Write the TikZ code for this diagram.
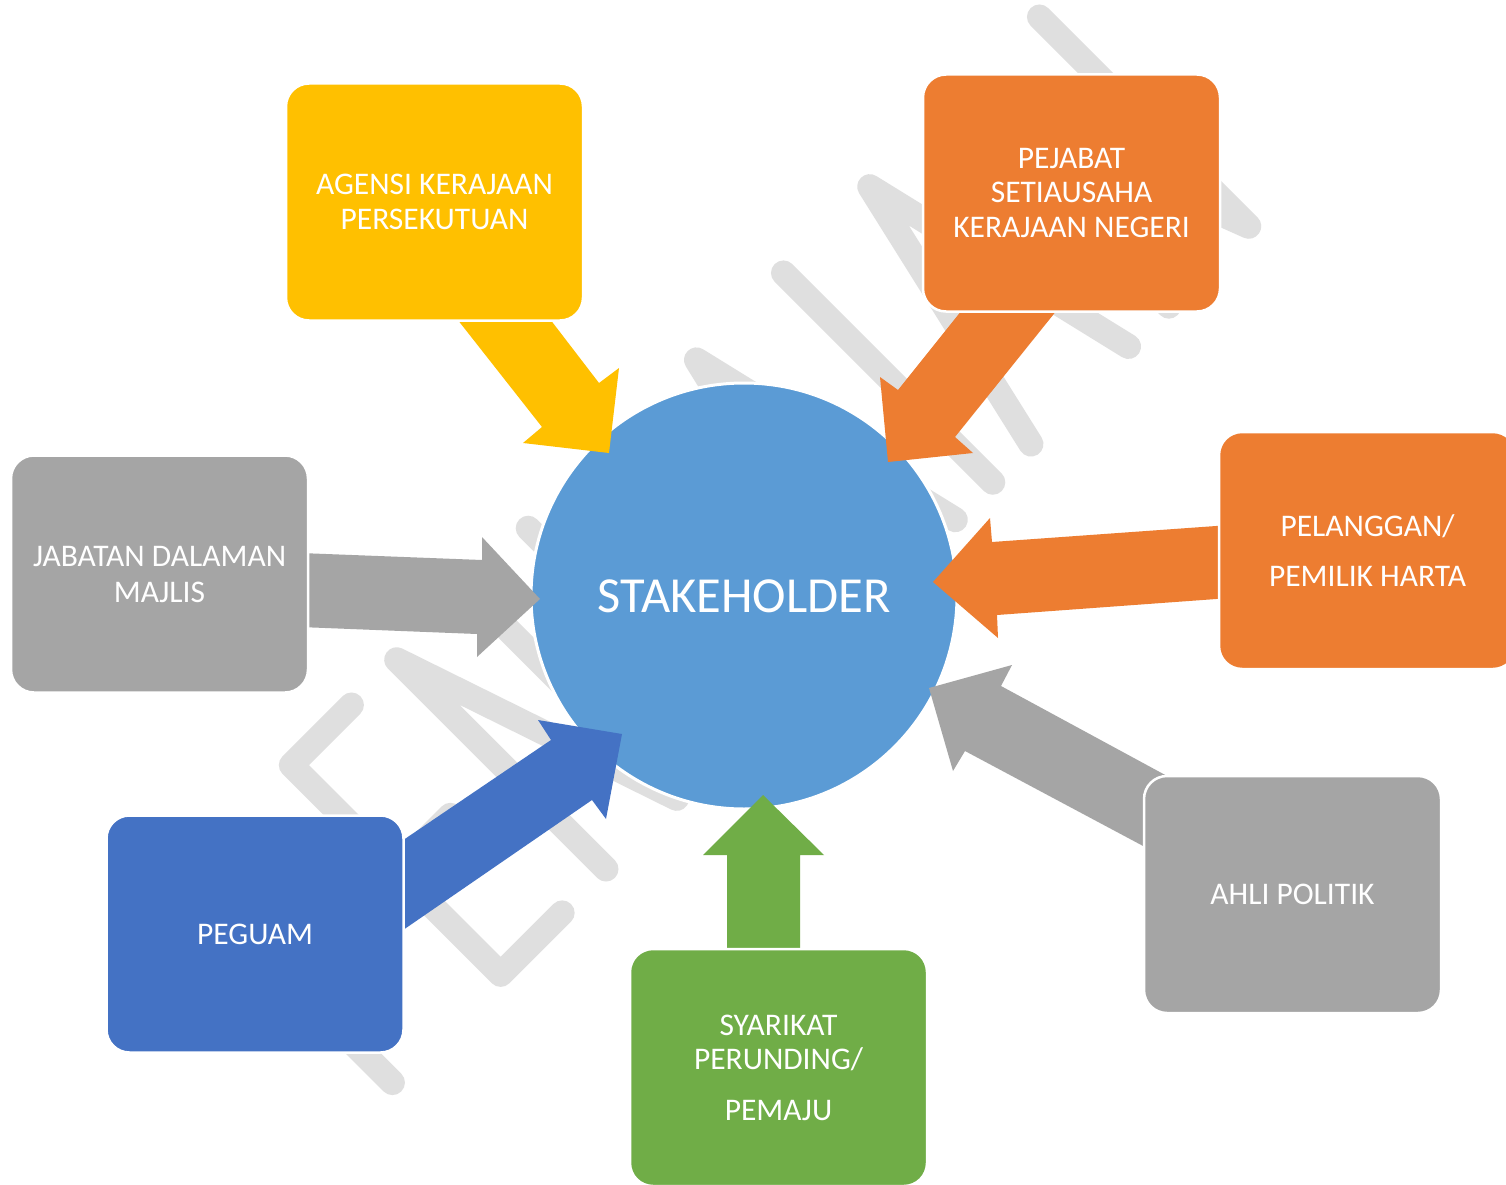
\documentclass[tikz,border=0pt]{standalone}
\usepackage{fontspec}
\setmainfont{Carlito}
\definecolor{cyel}{HTML}{FFC000}
\definecolor{cora}{HTML}{ED7D31}
\definecolor{cgry}{HTML}{A5A5A5}
\definecolor{cblu}{HTML}{4472C4}
\definecolor{cgrn}{HTML}{70AD47}
\definecolor{ccir}{HTML}{5B9BD5}
\definecolor{cwm}{HTML}{DFDFDF}
\newcommand\boxfont{\fontsize{31.5}{34.5}\selectfont}
\tikzset{
  stakebox/.style={rectangle, rounded corners=23pt, minimum width=297pt, minimum height=237pt,
    draw=white, line width=2.5pt, text=white, align=center, font=\boxfont, inner sep=0pt},
  hub/.style={circle, minimum size=426pt, fill=ccir, draw=white, line width=3pt, text=white,
    font=\fontsize{50.5}{60}\selectfont, inner sep=0pt},
  wmark/.style={color=cwm, line width=25pt, line cap=round, line join=round},
  blockarrow/.style={draw=none}
}
\begin{document}
\begin{tikzpicture}[x=1pt,y=-1pt]
\useasboundingbox (0,0) rectangle (1506,1185);
\clip (0,0) rectangle (1506,1185);
\fill[white] (0,0) rectangle (1506,1185);

% watermark "PENILAIAN" (rotated frame: u to the upper right, v to the lower right)
\begin{scope}[x={(0.70710678pt,0.70710678pt)}, y={(0.70710678pt,-0.70710678pt)}, wmark]
  \draw (-488,1043) -- (-488,747) -- (-440,747) .. controls (-390,747) and (-390,895) .. (-440,895) -- (-488,895);
  \draw (-250,747) -- (-335,747) -- (-335,1043) -- (-248,1043);
  \draw (-335,895) -- (-258,895);
  \draw (-186,1043) -- (-186,747) -- (-86,1043) -- (-86,747);
  \draw (0,747) -- (0,1043);
  \draw (168,1043) -- (238,747) -- (308,1043);
  \draw (189,955) -- (287,955);
  \draw (361,747) -- (361,1043);
  \draw (415,1043) -- (483,747) -- (553,1043);
  \draw (435,955) -- (531,955);
  \draw (610,1043) -- (610,747) -- (723,1043) -- (723,747);
\end{scope}

% central circle
\node[hub] (sh) at (744,596) {STAKEHOLDER};

% block arrows
\fill[cyel, blockarrow] (450,310) -- (542,427) -- (523,443) -- (609,453) -- (619,368) -- (599,383) -- (543,310) -- cycle;
\fill[cora, blockarrow] (970,300) -- (898,390) -- (880,377) -- (888,462) -- (973,453) -- (955,437) -- (1065,300) -- cycle;
\fill[cora, blockarrow] (1230,525) -- (992,542) -- (990,518) -- (933,582) -- (998,638) -- (997,615) -- (1230,598) -- cycle;
\fill[cgry, blockarrow] (300,553) -- (482,560) -- (482,537) -- (540,599) -- (477,657) -- (477,634) -- (300,627) -- cycle;
\fill[cgry, blockarrow] (1180,783) -- (1001,686) -- (1012,665) -- (929,688) -- (953,771) -- (965,751) -- (1160,855) -- cycle;
\fill[cblu, blockarrow] (390,849) -- (551,740) -- (538,720) -- (622,734) -- (606,819) -- (592,800) -- (390,939) -- cycle;
\fill[cgrn, blockarrow] (727,960) -- (727,855) -- (703,855) -- (763,795) -- (824,855) -- (800,855) -- (800,960) -- cycle;

% boxes
\node[stakebox, fill=cyel] (agensi) at (434.5,202) {AGENSI KERAJAAN\\PERSEKUTUAN};
\node[stakebox, fill=cora] (pejabat) at (1071.5,193) {PEJABAT\\SETIAUSAHA\\KERAJAAN NEGERI};
\node[stakebox, fill=cora, font=\fontsize{31.5}{50}\selectfont] (pelanggan) at (1367.5,550.5) {PELANGGAN/\\PEMILIK HARTA};
\node[stakebox, fill=cgry, font=\fontsize{31.5}{36}\selectfont] (jabatan) at (159.5,574) {JABATAN DALAMAN\\MAJLIS};
\node[stakebox, fill=cblu] (peguam) at (255,934) {PEGUAM};
\node[stakebox, fill=cgrn, font=\fontsize{31.5}{34}\selectfont] (syarikat) at (778.5,1067.5) {SYARIKAT\\PERUNDING/\\[17pt]PEMAJU};
\node[stakebox, fill=cgry] (ahli) at (1292.5,894.5) {AHLI POLITIK};
\end{tikzpicture}
\end{document}
